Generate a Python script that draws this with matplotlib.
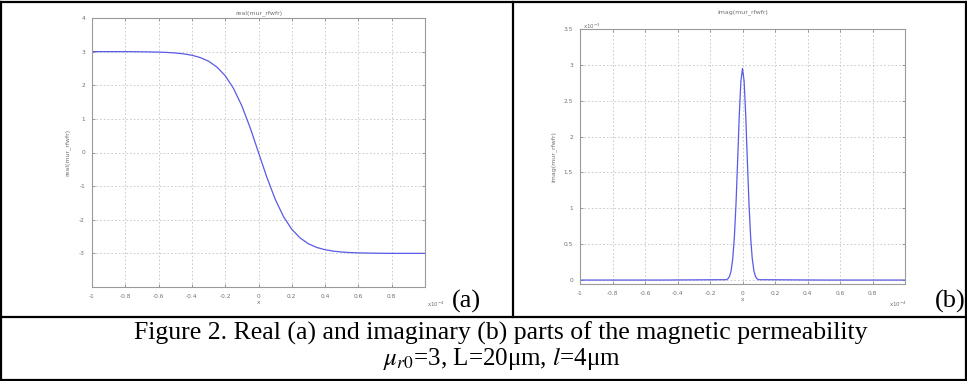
import numpy as np
import matplotlib
matplotlib.use("Agg")
import matplotlib.pyplot as plt
from matplotlib.lines import Line2D

# real part, x in units of 1e-4
x_real = [-1.0, -0.9, -0.8, -0.7, -0.6, -0.55, -0.5, -0.45, -0.4, -0.35, -0.3,
          -0.25, -0.2, -0.15, -0.1, -0.05, 0.0, 0.05, 0.1, 0.15, 0.2, 0.25,
          0.3, 0.35, 0.4, 0.45, 0.5, 0.55, 0.6, 0.7, 0.8, 0.9, 1.0]
y_real = [3.0, 3.0, 3.0, 2.995, 2.985, 2.976, 2.96, 2.934, 2.892, 2.824, 2.715,
          2.542, 2.285, 1.905, 1.386, 0.735, 0.0, -0.735, -1.386, -1.905, -2.285,
          -2.542, -2.715, -2.824, -2.892, -2.934, -2.96, -2.976, -2.985, -2.995,
          -3.0, -3.0, -3.0]

# imaginary part, values in units of 1e-3
x_imag = [-1.0, -0.5, -0.1, -0.09, -0.08, -0.07, -0.06, -0.05, -0.04, -0.03,
          -0.02, -0.01, 0.0, 0.01, 0.02, 0.03, 0.04, 0.05, 0.06, 0.07, 0.08,
          0.09, 0.1, 0.5, 1.0]
y_imag = [0.0, 0.0, 0.005, 0.017, 0.05, 0.13, 0.30, 0.60, 1.06, 1.66,
          2.29, 2.77, 2.95, 2.77, 2.29, 1.66, 1.06, 0.60, 0.30, 0.13, 0.05,
          0.017, 0.005, 0.0, 0.0]

xticks = [-1, -0.8, -0.6, -0.4, -0.2, 0, 0.2, 0.4, 0.6, 0.8, 1]
xlabels = ["-1", "-0.8", "-0.6", "-0.4", "-0.2", "0", "0.2", "0.4", "0.6", "0.8", ""]
yticks_real = [-4, -3, -2, -1, 0, 1, 2, 3, 4]
ylabels_real = ["", "-3", "-2", "-1", "0", "1", "2", "3", "4"]
yticks_imag = [0, 0.5, 1, 1.5, 2, 2.5, 3, 3.5]
ylabels_imag = ["0", "0.5", "1", "1.5", "2", "2.5", "3", "3.5"]

W, H = 967, 381
fig = plt.figure(figsize=(W / 100, H / 100), dpi=100)

def px_axes(l, t, r, b):
    return fig.add_axes([l / W, 1 - b / H, (r - l) / W, (b - t) / H])

gray = "#8c8c8c"
txt = "#707070"
line_col = "#5a5ae6"

def style(ax, yt, yl):
    ax.set_xlim(-1, 1)
    ax.set_xticks(xticks)
    ax.set_xticklabels(xlabels)
    ax.set_yticks(yt)
    ax.set_yticklabels(yl)
    ax.tick_params(direction="in", length=2.5, width=0.6, colors=gray,
                   labelsize=4.2, labelcolor=txt, top=True, right=True, pad=5)
    ax.grid(True, color="#c4c4c4", linestyle=(0, (2, 2.5)), linewidth=0.6)
    for s in ax.spines.values():
        s.set_color("#9a9a9a")
        s.set_linewidth(0.8)

ax1 = px_axes(92, 18, 425, 287)
ax1.plot(x_real, y_real, color=line_col, lw=0.9)
ax1.set_ylim(-4, 4)
style(ax1, yticks_real, ylabels_real)
ax1.set_title("real(mur_rfwfr)", fontsize=4.5, color=txt, pad=3)
ax1.set_ylabel("real(mur_rfwfr)", fontsize=4.5, color=txt, labelpad=6)
ax1.set_xlabel("x", fontsize=4.2, color=txt, labelpad=1)
fig.text(427 / W, 1 - 304 / H, r"x10$^{-4}$", fontsize=4, color=txt, va="center")

ax2 = px_axes(580, 29, 905, 284)
ax2.plot(x_imag, y_imag, color=line_col, lw=0.9)
ax2.set_ylim(-0.055, 3.5)
style(ax2, yticks_imag, ylabels_imag)
ax2.set_title("imag(mur_rfwfr)", fontsize=4.5, color=txt, pad=11)
ax2.set_ylabel("imag(mur_rfwfr)", fontsize=4.5, color=txt, labelpad=5)
ax2.set_xlabel("x", fontsize=4.2, color=txt, labelpad=1)
fig.text(583 / W, 1 - 26 / H, r"x10$^{-3}$", fontsize=4, color=txt, va="center")
fig.text(889 / W, 1 - 304 / H, r"x10$^{-4}$", fontsize=4, color=txt, va="center")

# table borders
def hline(y, x0, x1, lw=1.6):
    fig.add_artist(Line2D([x0 / W, x1 / W], [1 - y / H, 1 - y / H], color="black",
                          lw=lw, transform=fig.transFigure))

def vline(x, y0, y1, lw=1.6):
    fig.add_artist(Line2D([x / W, x / W], [1 - y0 / H, 1 - y1 / H], color="black",
                          lw=lw, transform=fig.transFigure))

hline(2, 0, W)
hline(317, 0, W)
hline(379.5, 0, W)
vline(1, 2, 380)
vline(966, 2, 380)
vline(513, 2, 317)

serif = "Liberation Serif"
fig.text(466 / W, 1 - 301 / H, "(a)", fontsize=19, family=serif, ha="center", va="center")
fig.text(950 / W, 1 - 301 / H, "(b)", fontsize=19, family=serif, ha="center", va="center")
fig.text(501 / W, 1 - 333 / H,
         "Figure 2. Real (a) and imaginary (b) parts of the magnetic permeability",
         fontsize=18.5, family=serif, ha="center", va="center")
fig.text(502 / W, 1 - 358 / H,
         r"$\mu_{r0}$=3, L=20μm, $l$=4μm",
         fontsize=18, family=serif, ha="center", va="center",
         math_fontfamily="stix")

fig.savefig("out.png", dpi=100)
